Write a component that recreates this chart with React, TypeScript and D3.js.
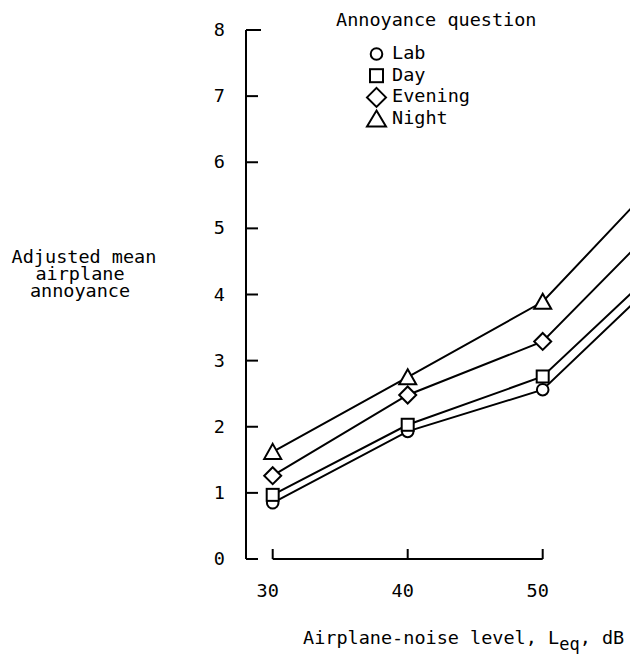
import * as d3 from 'd3';

// noise level (dB) and adjusted mean annoyance per question
const levels = [30, 40, 50, 60];
const lab = [0.85, 1.93, 2.56, 4.51];
const day = [0.97, 2.03, 2.76, 4.68];
const evening = [1.26, 2.48, 3.29, 5.36];
const night = [1.62, 2.75, 3.89, 6.05];

const seriesNames = ['Lab', 'Day', 'Evening', 'Night'];
const seriesShapes = ['circle', 'square', 'diamond', 'triangle'];
const xTicks = [30, 40, 50];
const yTicks = [0, 1, 2, 3, 4, 5, 6, 7, 8];

const FONT = '"DejaVu Sans Mono", monospace';

function Marker({ shape, x, y, big }: { shape: string; x: number; y: number; big?: boolean }) {
  const common = { fill: '#fff', stroke: '#000', strokeWidth: 2 };
  if (shape === 'circle') return <circle cx={x} cy={y} r={5.8} {...common} />;
  if (shape === 'square') {
    const s = big ? 13 : 12;
    return <rect x={x - s / 2} y={y - s / 2} width={s} height={s} {...common} />;
  }
  if (shape === 'diamond') {
    const h = big ? 9.5 : 8.5;
    return <path d={`M${x},${y - h}L${x + h},${y}L${x},${y + h}L${x - h},${y}Z`} {...common} />;
  }
  const w = big ? 9.5 : 8.5;
  const h = big ? 7.5 : 7;
  return <path d={`M${x},${y - h - 1}L${x + w},${y + h}L${x - w},${y + h}Z`} {...common} />;
}

export default function App() {
  const width = 630;
  const height = 657;
  const x = d3.scaleLinear().domain([30, 60]).range([272.7, 677.7]);
  const y = d3.scaleLinear().domain([0, 8]).range([559, 30]);
  const yAxisX = 246;

  const series = [lab, day, evening, night];
  const line = d3
    .line<number>()
    .x((_, i) => x(levels[i]))
    .y((d) => y(d));

  return (
    <svg
      width={width}
      height={height}
      style={{ position: 'absolute', left: 0, top: 0, background: '#fff' }}
      fontFamily={FONT}
      fontSize={18.5}
    >
      {/* y axis */}
      <line x1={yAxisX} x2={yAxisX} y1={y(8)} y2={y(0)} stroke="#000" strokeWidth={2} />
      {yTicks.map((t) => (
        <g key={t}>
          <line x1={yAxisX} x2={yAxisX + (t === 8 ? 15 : 12)} y1={y(t)} y2={y(t)} stroke="#000" strokeWidth={2} />
          <text x={225} y={y(t) + 6} textAnchor="end">
            {t}
          </text>
        </g>
      ))}

      {/* x axis */}
      <line x1={x(30)} x2={x(50)} y1={y(0)} y2={y(0)} stroke="#000" strokeWidth={2} />
      {xTicks.map((t) => (
        <g key={t}>
          <line x1={x(t)} x2={x(t)} y1={y(0)} y2={y(0) - 10} stroke="#000" strokeWidth={2} />
          <text x={x(t) - 5} y={597} textAnchor="middle">
            {t}
          </text>
        </g>
      ))}

      {/* axis titles */}
      <text x={303} y={644}>
        Airplane-noise level, L
        <tspan fontSize={17} dy={6}>eq</tspan>
        <tspan dy={-6}>, dB</tspan>
      </text>
      <text x={84} y={263} textAnchor="middle">
        <tspan x={84}>Adjusted mean</tspan>
        <tspan x={80} dy={17}>airplane</tspan>
        <tspan x={80} dy={17}>annoyance</tspan>
      </text>

      {/* series */}
      {series.map((vals, si) => (
        <g key={seriesNames[si]}>
          <path d={line(vals) ?? ''} fill="none" stroke="#000" strokeWidth={2} />
          {vals.map((v, i) => (
            <Marker key={i} shape={seriesShapes[si]} x={x(levels[i])} y={y(v)} />
          ))}
        </g>
      ))}

      {/* legend */}
      <text x={336} y={26}>Annoyance question</text>
      {seriesNames.map((name, i) => (
        <g key={name}>
          <Marker shape={seriesShapes[i]} x={376.5} y={54 + i * 21.7} big />
          <text x={392} y={59 + i * 21.7}>
            {name}
          </text>
        </g>
      ))}
    </svg>
  );
}
